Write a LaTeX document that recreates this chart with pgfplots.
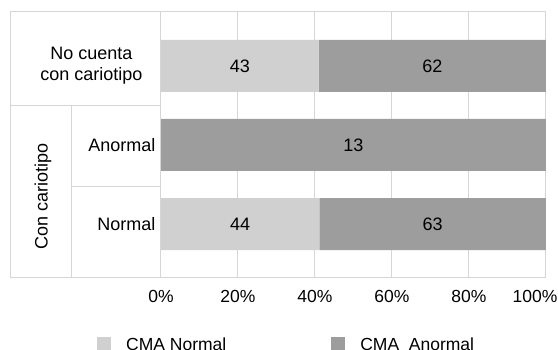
\documentclass[border=0pt]{standalone}
\usepackage{pgfplots}
\pgfplotsset{compat=1.18}
\usepackage{fontspec}
\setmainfont{Liberation Sans}
\definecolor{cmalight}{HTML}{D0D0D0}
\definecolor{cmadark}{HTML}{9D9D9D}
\definecolor{gridc}{HTML}{D6D6D6}
\begin{document}
\begin{tikzpicture}
\useasboundingbox (-161pt,-72pt) rectangle (397pt,278pt);
\begin{axis}[
  at={(0pt,0pt)}, anchor=south west,
  scale only axis, width=385pt, height=266pt,
  xbar stacked, bar width=52pt,
  xmin=0, xmax=100, ymin=-0.68, ymax=2.68,
  xtick={0,20,40,60,80,100},
  xticklabels={0\%,20\%,40\%,60\%,80\%,100\%\hspace*{22pt}},
  ytick={0,1,2},
  yticklabels={Normal,Anormal,{}},
  major tick length=0pt,
  xmajorgrids, grid style={draw=gridc, line width=1pt},
  axis line style={draw=gridc, line width=1pt},
  xticklabel style={font=\fontsize{17.5}{21}\selectfont, yshift=-9pt},
  yticklabel style={font=\fontsize{18}{21}\selectfont, xshift=-2pt},
  /pgf/number format/assume math mode=true,
  clip=false,
  legend columns=2,
  legend style={at={(-0.1662,-0.25)}, anchor=west, draw=none, fill=none,
    inner sep=0pt, font=\fontsize{17.5}{21}\selectfont,
    nodes={inner sep=0pt},
    /tikz/every odd column/.append style={column sep=15pt},
    /tikz/every even column/.append style={column sep=105pt}},
]
\addplot[fill=cmalight, draw=none, point meta=explicit symbolic,
  nodes near coords,
  every node near coord/.append style={anchor=center, text=black,
    font=\fontsize{18}{21}\selectfont},
  legend image code/.code={\fill[cmalight] (0pt,-7pt) rectangle (14pt,7pt);}]
  coordinates {(41.12,0) [44] (0,1) [] (40.95,2) [43]};
\addlegendentry{CMA Normal}
\addplot[fill=cmadark, draw=none, point meta=explicit symbolic,
  nodes near coords,
  every node near coord/.append style={anchor=center, text=black,
    font=\fontsize{18}{21}\selectfont},
  legend image code/.code={\fill[cmadark] (0pt,-7pt) rectangle (14pt,7pt);}]
  coordinates {(58.88,0) [63] (100,1) [13] (59.05,2) [62]};
\addlegendentry{CMA\ \ Anormal}
\end{axis}
\draw[gridc, line width=1pt] (-150pt,0pt) rectangle (0pt,266pt);
\draw[gridc, line width=1pt] (-150pt,172pt) -- (0pt,172pt);
\draw[gridc, line width=1pt] (-89pt,0pt) -- (-89pt,172pt);
\draw[gridc, line width=1pt] (-89pt,91pt) -- (0pt,91pt);
\node[align=center, font=\fontsize{18}{21}\selectfont] at (-69.5pt,212pt) {No cuenta\\con cariotipo};
\node[rotate=90, font=\fontsize{18}{21}\selectfont] at (-118pt,81.5pt) {Con cariotipo};
\end{tikzpicture}
\end{document}
